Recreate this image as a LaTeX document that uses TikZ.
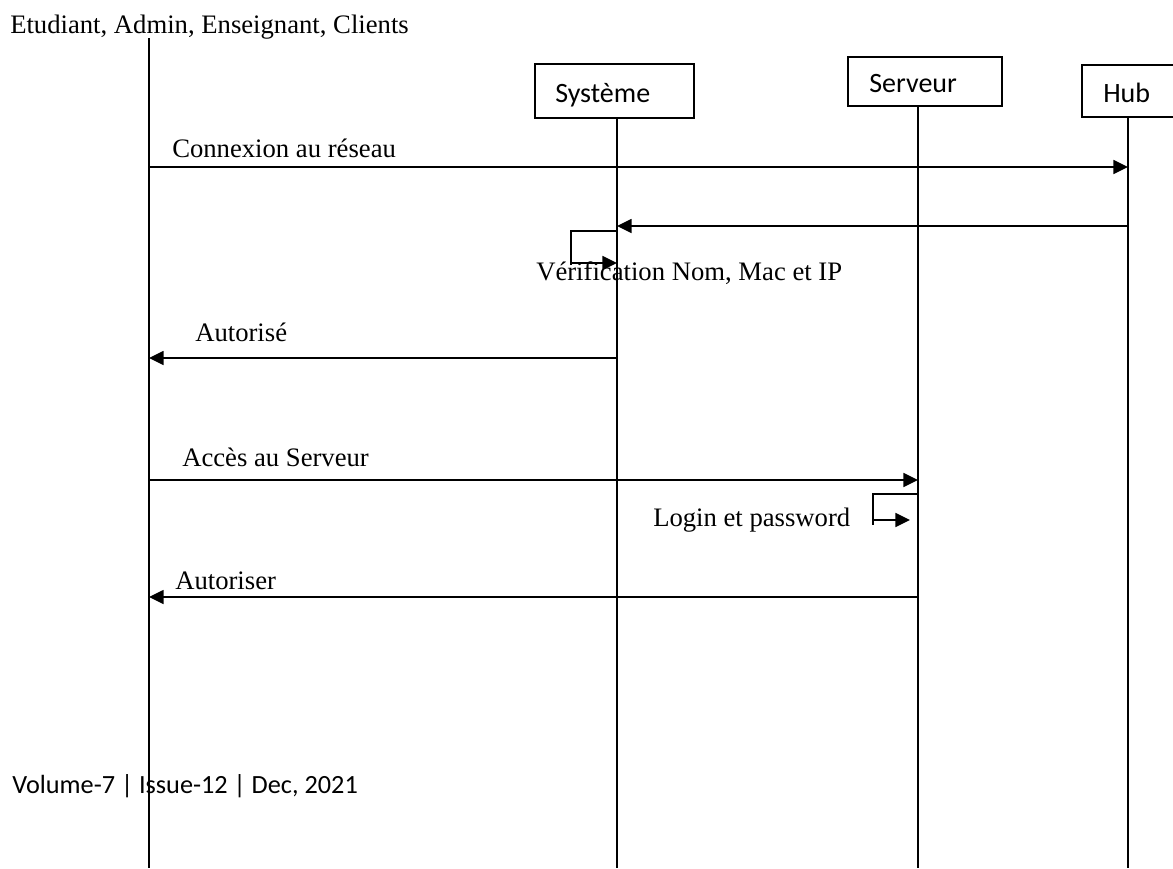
\documentclass[tikz,border=0pt]{standalone}
\usepackage{fontspec}
\setmainfont{Liberation Serif}
\newfontfamily\calibfont{Carlito}
\usetikzlibrary{arrows.meta}

\begin{document}
\begin{tikzpicture}[x=0.75pt,y=-0.75pt,
  ll/.style={line width=1.2pt},
  msg/.style={line width=1.2pt,-{Triangle[length=11pt,width=10.5pt]}},
  lbl/.style={anchor=base west,inner sep=0pt,font=\fontsize{20}{24}\selectfont},
  boxlbl/.style={anchor=base west,inner sep=0pt,font=\calibfont\fontsize{21}{25}\selectfont},
  frame/.style={draw,line width=1.2pt,inner sep=0pt,anchor=north west}]
\useasboundingbox (0,0) rectangle (1173,868);

% actor caption
\node[lbl] (actor) at (10,33) {Etudiant, Admin, Enseignant, Clients};

% object boxes
\node[frame,minimum width=119.25pt,minimum height=40.5pt] (sysbox) at (534,63) {};
\node[boxlbl] (systxt) at (555,102) {Système};
\node[frame,minimum width=115.5pt,minimum height=36.75pt] (srvbox) at (847,56) {};
\node[boxlbl] (srvtxt) at (869,92) {Serveur};
\node[frame,minimum width=97.5pt,minimum height=39pt] (hubbox) at (1081,64) {};
\node[boxlbl] (hubtxt) at (1103,102) {Hub};

% lifelines
\coordinate (actTop) at (149,38);
\coordinate (actBot) at (149,868);
\coordinate (sysBot) at (617,868);
\coordinate (srvBot) at (918,868);
\coordinate (hubBot) at (1128,868);
\draw[ll] (actTop) -- (actBot);
\draw[ll] (sysBot |- sysbox.south) -- (sysBot);
\draw[ll] (srvBot |- srvbox.south) -- (srvBot);
\draw[ll] (hubBot |- hubbox.south) -- (hubBot);

% message end points
\coordinate (m1a) at (149,167);  \coordinate (m1b) at (1128,167);
\coordinate (m2a) at (1128,226); \coordinate (m2b) at (617,226);
\coordinate (s1a) at (617,231);  \coordinate (s1b) at (571,231);
\coordinate (s1c) at (571,265);  \coordinate (s1d) at (571,263);
\coordinate (s1e) at (617,263);
\coordinate (m3a) at (617,358);  \coordinate (m3b) at (149,358);
\coordinate (m4a) at (149,480);  \coordinate (m4b) at (918,480);
\coordinate (s2a) at (918,494);  \coordinate (s2b) at (873,494);
\coordinate (s2c) at (873,525);  \coordinate (s2d) at (873,520);
\coordinate (s2e) at (910,520);
\coordinate (m5a) at (918,597);  \coordinate (m5b) at (149,597);

% messages
\draw[msg] (m1a) -- (m1b);
\draw[msg] (m2a) -- (m2b);
\draw[ll] (s1a) -- (s1b) -- (s1c);
\draw[msg] (s1d) -- (s1e);
\draw[msg] (m3a) -- (m3b);
\draw[msg] (m4a) -- (m4b);
\draw[ll] (s2a) -- (s2b) -- (s2c);
\draw[msg] (s2d) -- (s2e);
\draw[msg] (m5a) -- (m5b);

% message labels
\node[lbl] (l1) at (172,157) {Connexion au réseau};
\node[lbl] (l2) at (536,280) {Vérification Nom, Mac et IP};
\node[lbl] (l3) at (195,341) {Autorisé};
\node[lbl] (l4) at (182,466) {Accès au Serveur};
\node[lbl] (l5) at (653,526) {Login et password};
\node[lbl] (l6) at (175,589) {Autoriser};

% footer
\node[anchor=base west,inner sep=0pt,font=\calibfont\fontsize{19.7}{24}\selectfont] (foot) at (12,793) {Volume-7 | Issue-12 | Dec, 2021};
\end{tikzpicture}
\end{document}
